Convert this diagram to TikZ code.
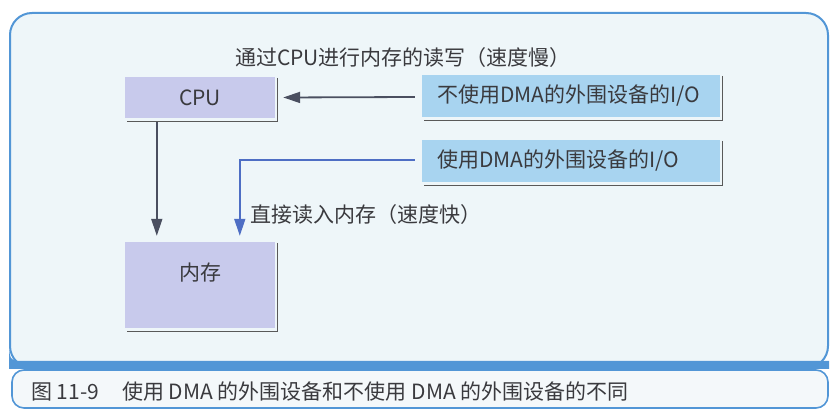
\documentclass[tikz,border=0pt]{standalone}
\usepackage{fontspec}
\newfontfamily\cjk{Noto Sans CJK SC}
\usetikzlibrary{arrows.meta,calc}
\definecolor{frameblue}{RGB}{82,150,214}
\definecolor{panelfill}{RGB}{238,246,249}
\definecolor{capfill}{RGB}{244,248,250}
\definecolor{cpufill}{RGB}{200,202,236}
\definecolor{iofill}{RGB}{168,212,240}
\definecolor{arrowdark}{RGB}{74,79,96}
\definecolor{arrowblue}{RGB}{78,110,196}
\definecolor{textgray}{RGB}{58,58,62}
\tikzset{
  txt/.style={font=\cjk\fontsize{21pt}{25pt}\selectfont, text=textgray, inner sep=0pt},
  unitbox/.style={txt, fill=cpufill, minimum width=150pt, minimum height=41pt},
  iobox/.style={txt, fill=iofill, minimum height=42pt, text width=268pt, inner xsep=15pt, inner ysep=0pt, align=left},
  arr/.style={draw=arrowdark, line width=1.8pt, -{Triangle[length=17pt,width=11pt]}},
  arrdma/.style={arr, draw=arrowblue, -{Triangle[length=17pt,width=11pt,fill=arrowblue]}}
}
\begin{document}
\begin{tikzpicture}[x=1pt,y=-1pt]
  \useasboundingbox (0,0) rectangle (833,411);
  % frame
  \draw[frameblue, line width=2pt, fill=panelfill, rounded corners=22pt] (10,13) rectangle (828,368);
  \fill[frameblue] (9,346) .. controls (10,361) .. (28,361) -- (829,361) -- (829,369) -- (9,369) -- cycle;
  \draw[frameblue, line width=1.6pt, fill=capfill, rounded corners=12pt] (12,370) rectangle (828,408);

  % blocks
  \node[unitbox] (cpu) at (200,97.5) {CPU};
  \node[unitbox, minimum height=86pt] (mem) at (200,285) {};
  \node[txt, below=21pt] (memlabel) at (mem.north) {内存};
  \node[iobox] (io1) at (571,96) {不使用DMA的外围设备的I/O};
  \node[iobox] (io2) at (571,161) {使用DMA的外围设备的I/O};

  % shadows
  \foreach \n in {cpu,mem,io1,io2}
    \draw[black!65, line width=0.9pt] ($(\n.north east)+(2,1)$) -- ($(\n.south east)+(2,3)$) -- ($(\n.south west)+(2,3)$);

  % connectors
  \draw[arr] ($(io1.west)+(-7,1)$) -- ($(cpu.east)+(8,0)$);
  \draw[arr] ($(cpu.south west)+(32,4)$) -- ($(mem.north west)+(32,-6)$);
  \draw[arrdma] ($(io2.west)+(-7,-1)$) -| ($(mem.north west)+(115,-6)$);

  % labels
  \node[txt] (slow) at (403,58) {通过CPU进行内存的读写（速度慢）};
  \node[txt, anchor=west] (fast) at (250,215) {直接读入内存（速度快）};
  \node[txt, anchor=west] (capnum) at (31,392) {图 11-9};
  \node[txt, anchor=west] (caption) at (122,392) {使用 DMA 的外围设备和不使用 DMA 的外围设备的不同};
\end{tikzpicture}
\end{document}
